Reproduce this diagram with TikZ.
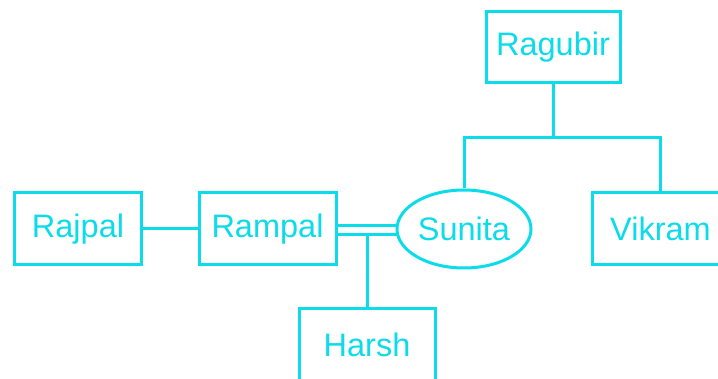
\documentclass[tikz,border=0pt]{standalone}
\usepackage{fontspec}
\setmainfont{Liberation Sans}
\usetikzlibrary{shapes.geometric}
\definecolor{cy}{RGB}{12,220,234}
\begin{document}
\begin{tikzpicture}[x=1pt,y=-1pt,
  every node/.style={text=cy,font=\fontsize{32.5}{35}\selectfont},
  person/.style={draw=cy,line width=3pt,rectangle,inner sep=0pt,minimum width=#1,minimum height=72pt},
  person/.default=136pt,
  wife/.style={draw=cy,line width=3pt,ellipse,inner sep=0pt,minimum width=134pt,minimum height=78pt},
  link/.style={draw=cy,line width=3pt}]
\useasboundingbox (0,0) rectangle (718,379);
\fill[white] (0,0) rectangle (718,379);
\begin{scope}
\clip (0,0) rectangle (718,379);
\node[person=134pt,minimum height=71pt] (rag) at (553,47) {Ragubir};
\node[person=127pt] (raj) at (78,229) {Rajpal};
\node[person=137pt] (ram) at (267.5,229) {Rampal};
\node[wife] (sun) at (464,229) {Sunita};
\node[person=137pt] (vik) at (660.5,229) {Vikram};
\node[person=136pt] (har) at (367,345) {Harsh};
\coordinate (j) at (553,138);
\coordinate (hj) at (367,234.5);
\draw[link] (rag) -- (j);
\draw[link] (sun.north) |- (j) -| (vik.north);
\draw[link] (raj) -- (ram);
\draw[link] ([yshift=3.5pt]ram.east) -- ([yshift=3.5pt,xshift=1pt]sun.west);
\draw[link] ([yshift=-5.5pt]ram.east) -- ([yshift=-5.5pt,xshift=1pt]sun.west);
\draw[link] (har.north) -- (hj);
\end{scope}
\end{tikzpicture}
\end{document}
